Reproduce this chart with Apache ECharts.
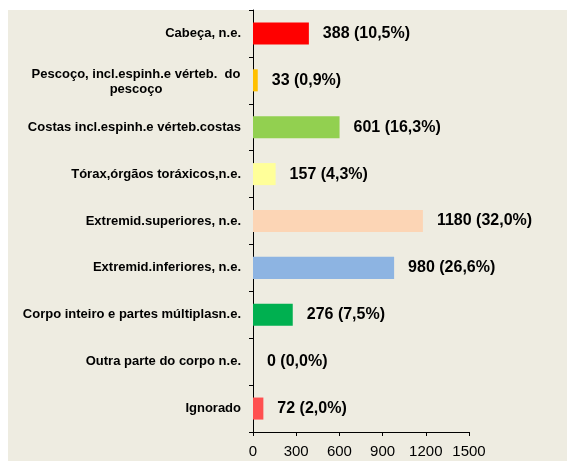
<!DOCTYPE html>
<html>
<head>
<meta charset="utf-8">
<script src="https://cdn.jsdelivr.net/npm/echarts@6/dist/echarts.min.js"></script>
<style>
  html, body { margin: 0; padding: 0; background: #fff; }
  #chart { width: 567px; height: 461px; }
</style>
</head>
<body>
<div id="chart"></div>
<script>
  // categorias (de cima para baixo)
  var categories = [
    'Cabeça, n.e.',
    'Pescoço, incl.espinh.e vérteb.  do\npescoço',
    'Costas incl.espinh.e vérteb.costas',
    'Tórax,órgãos toráxicos,n.e.',
    'Extremid.superiores, n.e.',
    'Extremid.inferiores, n.e.',
    'Corpo inteiro e partes múltiplasn.e.',
    'Outra parte do corpo n.e.',
    'Ignorado'
  ];
  var values = [388, 33, 601, 157, 1180, 980, 276, 0, 72];
  var percents = ['10,5', '0,9', '16,3', '4,3', '32,0', '26,6', '7,5', '0,0', '2,0'];
  var barColors = ['#ff0000', '#ffc000', '#92d050', '#ffff99', '#fcd5b5', '#8db4e2', '#00b050', '#d9d9d9', '#ff5050'];
  var xTicks = [0, 300, 600, 900, 1200, 1500];

  var fontNarrow = '"Liberation Sans Narrow", "Arial Narrow", "Liberation Sans", sans-serif';

  var chart = echarts.init(document.getElementById('chart'));
  chart.setOption({
    backgroundColor: '#ffffff',
    animation: false,
    graphic: [{
      type: 'rect',
      silent: true,
      z: -10,
      shape: { x: 8, y: 10, width: 559, height: 451 },
      style: { fill: '#eeece1' }
    }],
    grid: { left: 253, right: 98, top: 10, bottom: 29, containLabel: false },
    xAxis: {
      type: 'value',
      min: xTicks[0],
      max: xTicks[xTicks.length - 1],
      interval: 300,
      axisLine: { show: true, lineStyle: { color: '#000', width: 1 } },
      axisTick: { show: true, length: 4, lineStyle: { color: '#000' } },
      splitLine: { show: false },
      axisLabel: {
        margin: 12,
        color: '#000',
        fontFamily: fontNarrow,
        fontSize: 15,
        formatter: function (v) { return String(v); }
      }
    },
    yAxis: {
      type: 'category',
      inverse: true,
      data: categories,
      axisLine: { show: true, lineStyle: { color: '#000', width: 1 } },
      axisTick: { show: true, length: 4, alignWithLabel: false, lineStyle: { color: '#000' } },
      axisLabel: {
        margin: 12,
        color: '#000',
        fontFamily: fontNarrow,
        fontSize: 13,
        fontWeight: 'bold',
        lineHeight: 15,
        formatter: function (v) {
          if (v.indexOf('\n') >= 0) {
            return v.split('\n').map(function (s) { return '{c|' + s + '}'; }).join('\n');
          }
          return v;
        },
        rich: {
          c: {
            width: 210,
            align: 'center',
            fontFamily: fontNarrow,
            fontSize: 13,
            fontWeight: 'bold',
            color: '#000',
            lineHeight: 15,
            padding: [3, 0, 0, 0]
          }
        }
      }
    },
    series: [{
      type: 'bar',
      data: values.map(function (v, i) {
        return { value: v, itemStyle: { color: barColors[i] } };
      }),
      barWidth: '47%',
      label: {
        show: true,
        position: 'right',
        distance: 14,
        color: '#000',
        fontFamily: fontNarrow,
        fontSize: 16,
        fontWeight: 'bold',
        formatter: function (p) {
          return p.value + ' (' + percents[p.dataIndex] + '%)';
        }
      }
    }]
  });
</script>
</body>
</html>
